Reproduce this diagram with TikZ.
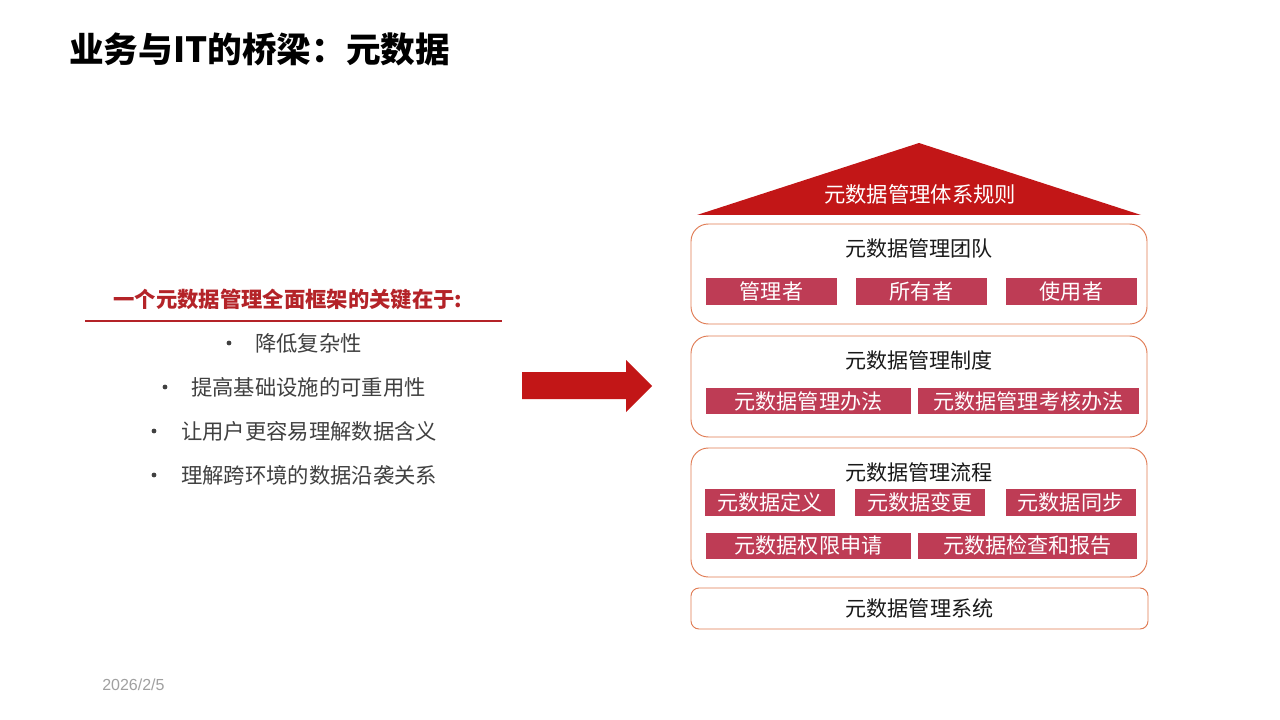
\documentclass[tikz,border=0pt]{standalone}
\usepackage{fontspec}
\setmainfont{Noto Sans CJK SC}
\newfontfamily\datefont{Liberation Sans}
\usepackage{tikz}
\usetikzlibrary{positioning}
\usepackage{xcolor}
\definecolor{roofred}{HTML}{C21617}
\definecolor{headred}{HTML}{B42328}
\definecolor{tagred}{HTML}{BE3C55}
\definecolor{boxline}{HTML}{E07A52}
\definecolor{bodygray}{HTML}{404040}
\definecolor{dategray}{HTML}{A0A0A0}

\begin{document}
\begin{tikzpicture}[x=0.75pt,y=-0.75pt,
    layer/.style={draw=boxline, line width=0.7pt, rounded corners=13pt, minimum width=342pt, inner sep=0pt},
    tag/.style={fill=tagred, text=white, inner sep=0pt, minimum height=20pt, font=\fontsize{15.8}{18}\selectfont},
    caption/.style={inner sep=0pt, text=black!90, font=\fontsize{15.8}{18}\selectfont}]
    \useasboundingbox[fill=white] (0,0) rectangle (1280,720);

    % Title
    \node[anchor=west, inner sep=0pt, font=\fontsize{26}{30}\bfseries] (title) at (69,49) {业务与IT的桥梁：元数据};

    % Left side
    \node[inner sep=0pt, text=headred, font=\fontsize{16}{19}\bfseries] (head) at (288,299) {一个元数据管理全面框架的关键在于:};
    \draw[headred, line width=2.2pt] (85,321) -- (502,321);
    \foreach \txt/\bx/\tx/\y [count=\i] in {降低复杂性/229/255/343, 提高基础设施的可重用性/165/191/387, 让用户更容易理解数据含义/154/181/431, 理解跨环境的数据沿袭关系/154/181/475} {
        \node[circle, fill=bodygray, inner sep=0pt, minimum size=3.6pt] (dot\i) at (\bx,\y) {};
        \node[anchor=west, inner sep=0pt, text=bodygray, font=\fontsize{16}{19}\selectfont] (pt\i) at (\tx,\y) {\txt};
    }

    % Arrow
    \fill[roofred] (522,372) -- (626,372) -- (626,360) -- (652,386) -- (626,412) -- (626,399) -- (522,399) -- cycle;

    % Roof
    \fill[roofred] (697,215) -- (919,143) -- (1141,215) -- cycle;
    \node[inner sep=0pt, text=white, font=\fontsize{16}{19}\selectfont] (rule) at (920,194) {元数据管理体系规则};

    % Layers
    \node[layer, minimum height=75pt] (team) at (919,274) {};
    \node[layer, minimum height=75.75pt] (policy) at (919,386.5) {};
    \node[layer, minimum height=96.75pt] (flow) at (919,512.5) {};
    \node[layer, rounded corners=6pt, minimum width=342.75pt, minimum height=30.75pt] (system) at (919.5,608.5) {};

    \node[caption] (teamtitle) at (919,248) {元数据管理团队};
    \node[caption] (policytitle) at (919,360) {元数据管理制度};
    \node[caption] (flowtitle) at (919,472) {元数据管理流程};
    \node[caption] (systemtitle) at (919.5,608) {元数据管理系统};

    % Team roles
    \foreach \txt/\x [count=\i] in {管理者/771.5, 所有者/921.5, 使用者/1071.5} {
        \node[tag, minimum width=98.25pt] (role\i) at (\x,291.5) {\txt};
    }

    % Policies
    \node[tag, minimum width=153.75pt, minimum height=19.5pt] (rule1) at (808.5,401) {元数据管理办法};
    \node[tag, minimum width=165.75pt, minimum height=19.5pt] (rule2) at (1028.5,401) {元数据管理考核办法};

    % Processes
    \foreach \txt/\x [count=\i] in {元数据定义/770, 元数据变更/920, 元数据同步/1070.5} {
        \node[tag, minimum width=97.5pt] (step\i) at (\x,502.5) {\txt};
    }
    \node[tag, minimum width=153.75pt, minimum height=19.5pt] (step4) at (808.5,546) {元数据权限申请};
    \node[tag, minimum width=164.25pt, minimum height=19.5pt] (step5) at (1027.5,546) {元数据检查和报告};

    % Date
    \node[anchor=west, inner sep=0pt, text=dategray, font=\datefont\fontsize{12}{14}\selectfont] (date) at (102,685) {2026/2/5};
\end{tikzpicture}
\end{document}
